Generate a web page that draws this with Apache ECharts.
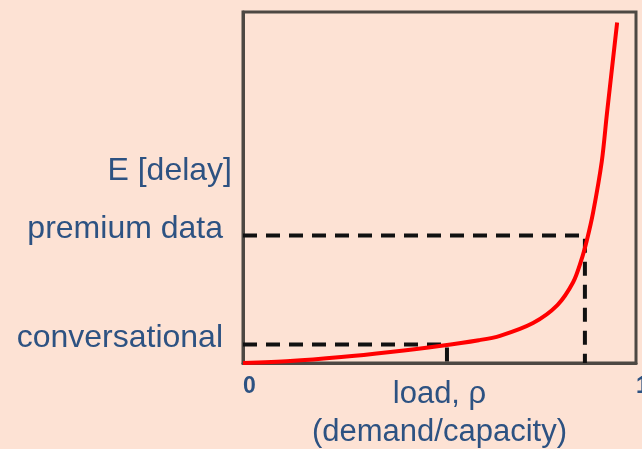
<!DOCTYPE html>
<html>
<head>
<meta charset="utf-8">
<script src="https://cdn.jsdelivr.net/npm/echarts@6/dist/echarts.min.js"></script>
<style>
html,body{margin:0;padding:0;background:#fde2d4;}
#c{width:642px;height:449px;}
</style>
</head>
<body>
<div id="c"></div>
<script>
// load rho (x) and expected delay (y, arbitrary units)
const delayCurveX = [0, 0.12, 0.25, 0.375, 0.50, 0.60, 0.654, 0.738, 0.80, 0.84, 0.86, 0.875, 0.891, 0.913, 0.926, 0.952];
const delayCurveY = [0, 0.11, 0.34, 0.63, 0.97, 1.30, 1.55, 2.28, 3.3, 4.6, 5.8, 7.0, 8.6, 11.5, 14.2, 19.4];

const levelNames = ['conversational', 'premium data'];
const levelDelay = [1.05, 7.26];
const levelLoad = [0.519, 0.870];

const xTickValues = [0, 1];
const xTickLabels = ['0', '1'];
const yAxisTitle = 'E [delay]';
const xAxisTitle = 'load, ρ\n(demand/capacity)';

const blue = '#2d5282';
const font = '"Liberation Sans", Arial, sans-serif';

const curve = delayCurveX.map((x, i) => [x, delayCurveY[i]]);
const guideSeries = levelNames.map((n, i) => ({
  type: 'line',
  name: n,
  data: [[0, levelDelay[i]], [levelLoad[i], levelDelay[i]], [levelLoad[i], 0]],
  symbol: 'none',
  silent: true,
  z: 2,
  lineStyle: { color: '#111', width: 4, type: [14, 9] }
}));

const chart = echarts.init(document.getElementById('c'));
chart.setOption({
  backgroundColor: '#fde2d4',
  animation: false,
  grid: {
    left: 243, right: 6, top: 12, bottom: 86,
    containLabel: false,
    outerBoundsMode: 'none',
    show: true, borderColor: '#4d4843', borderWidth: 3,
    backgroundColor: 'transparent'
  },
  xAxis: {
    type: 'value', min: 0, max: 1,
    name: xAxisTitle,
    nameLocation: 'middle',
    nameGap: 12,
    nameMoveOverlap: false,
    nameTextStyle: { color: blue, fontSize: 31, fontFamily: font, lineHeight: 38 },
    axisLine: { show: true, lineStyle: { color: '#4d4843', width: 3 } },
    axisTick: { show: false },
    splitLine: { show: false },
    axisLabel: {
      customValues: xTickValues,
      formatter: v => xTickLabels[xTickValues.indexOf(v)],
      color: blue, fontSize: 23, fontWeight: 'bold', fontFamily: font,
      align: 'left', margin: 12
    }
  },
  yAxis: {
    type: 'value', min: 0, max: 20,
    name: yAxisTitle,
    nameLocation: 'middle',
    nameRotate: 0,
    nameGap: 11,
    nameMoveOverlap: false,
    nameTextStyle: { color: blue, fontSize: 32, fontFamily: font, align: 'right', verticalAlign: 'bottom' },
    axisLine: { show: true, lineStyle: { color: '#4d4843', width: 3 } },
    axisTick: { show: false },
    splitLine: { show: false },
    axisLabel: {
      customValues: levelDelay,
      formatter: v => levelNames[levelDelay.indexOf(v)],
      color: blue, fontSize: 32, fontFamily: font,
      margin: 20, verticalAlign: 'bottom', lineHeight: 12
    }
  },
  series: [
    ...guideSeries,
    {
      type: 'line',
      name: 'E[delay]',
      data: curve,
      symbol: 'none',
      smooth: 0.3,
      z: 3,
      lineStyle: { color: '#ff0000', width: 4 }
    }
  ]
});
</script>
</body>
</html>
